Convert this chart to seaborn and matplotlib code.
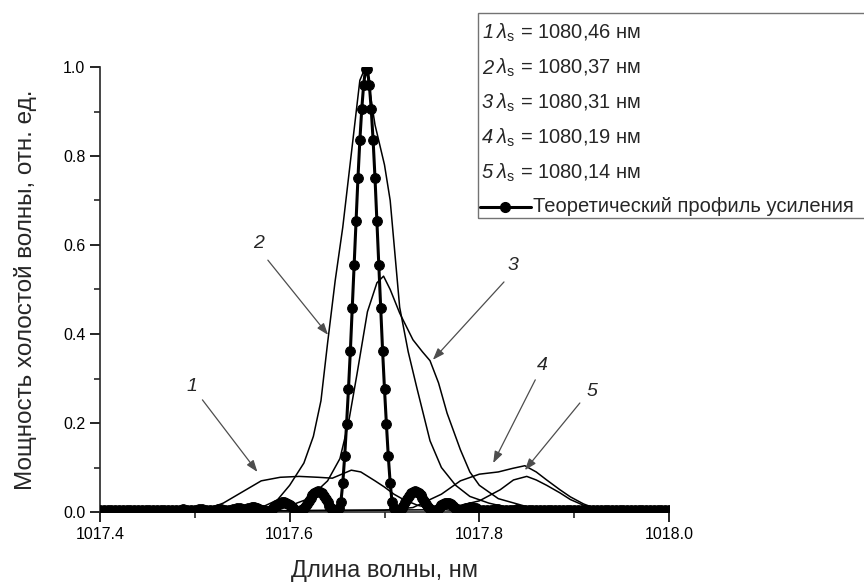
import numpy as np
import pandas as pd
import matplotlib
matplotlib.use("Agg")
import matplotlib.pyplot as plt
from matplotlib.lines import Line2D
from matplotlib.patches import Rectangle
from matplotlib.ticker import MultipleLocator, FormatStrFormatter
import seaborn as sns

# ---------------- data ----------------
# Theoretical gain profile (sampled on a wavelength grid, nm)
theory_x_left = np.round(np.arange(1017.400, 1017.5565, 0.004), 3)
theory_y_left = [
    0.004, 0.005, 0.005, 0.004, 0.004, 0.005, 0.005, 0.004, 0.004, 0.005,
    0.005, 0.004, 0.004, 0.005, 0.005, 0.004, 0.004, 0.005, 0.005, 0.004,
    0.004, 0.005, 0.006, 0.005, 0.004, 0.005, 0.006, 0.006, 0.005, 0.004,
    0.005, 0.007, 0.007, 0.005, 0.004, 0.006, 0.008, 0.008, 0.007, 0.009,
]
theory_x_mid = np.round(np.arange(1017.560, 1017.8005, 0.002), 3)
theory_y_mid = [
    0.011, 0.011, 0.010, 0.009, 0.007, 0.005, 0.004, 0.003, 0.003, 0.003,
    0.005, 0.008, 0.012, 0.015, 0.018, 0.020, 0.022, 0.022, 0.021, 0.019,
    0.016, 0.012, 0.008, 0.005, 0.003, 0.003, 0.004, 0.007, 0.012, 0.018,
    0.025, 0.032, 0.038, 0.043, 0.046, 0.047, 0.046, 0.043, 0.037, 0.030,
    0.022, 0.014, 0.008, 0.004, 0.003, 0.004, 0.008, 0.022, 0.065, 0.125,
    0.198, 0.276, 0.362, 0.458, 0.555, 0.655, 0.750, 0.835, 0.905, 0.960,
    0.995, 0.995, 0.960, 0.905, 0.835, 0.750, 0.655, 0.555, 0.458, 0.362,
    0.276, 0.198, 0.125, 0.065, 0.022, 0.008, 0.004, 0.003, 0.004, 0.008,
    0.014, 0.022, 0.030, 0.037, 0.043, 0.046, 0.047, 0.046, 0.043, 0.038,
    0.032, 0.025, 0.018, 0.012, 0.007, 0.004, 0.003, 0.004, 0.007, 0.011,
    0.015, 0.018, 0.020, 0.021, 0.020, 0.018, 0.014, 0.010, 0.006, 0.004,
    0.003, 0.004, 0.006, 0.008, 0.010, 0.011, 0.011, 0.010, 0.008, 0.006,
    0.005,
]
theory_x_right = np.round(np.arange(1017.804, 1018.0005, 0.004), 3)
theory_y_right = [
    0.004, 0.004, 0.005, 0.006, 0.006, 0.005, 0.004, 0.004, 0.005, 0.006,
    0.005, 0.004, 0.004, 0.005, 0.005, 0.004, 0.004, 0.005, 0.005, 0.004,
    0.004, 0.005, 0.005, 0.004, 0.004, 0.005, 0.005, 0.004, 0.004, 0.005,
    0.005, 0.004, 0.004, 0.005, 0.005, 0.004, 0.004, 0.005, 0.005, 0.004,
    0.004, 0.005, 0.005, 0.004, 0.004, 0.005, 0.005, 0.004, 0.004, 0.005,
]

# Measured idler spectra for five signal wavelengths
x1 = [1017.40, 1017.45, 1017.50, 1017.515, 1017.53, 1017.55, 1017.57, 1017.59,
      1017.61, 1017.63, 1017.645, 1017.655, 1017.665, 1017.675, 1017.69, 1017.70,
      1017.71, 1017.72, 1017.735, 1017.75, 1017.77, 1017.80, 1017.90, 1018.00]
y1 = [0.004, 0.004, 0.005, 0.008, 0.020, 0.045, 0.070, 0.078,
      0.080, 0.078, 0.076, 0.085, 0.094, 0.090, 0.070, 0.056,
      0.040, 0.028, 0.015, 0.008, 0.004, 0.003, 0.003, 0.003]

x2 = [1017.40, 1017.50, 1017.55, 1017.572, 1017.587, 1017.60, 1017.615, 1017.625,
      1017.633, 1017.640, 1017.648, 1017.656, 1017.662, 1017.668, 1017.674, 1017.678,
      1017.682, 1017.690, 1017.700, 1017.706, 1017.711, 1017.716, 1017.725, 1017.734,
      1017.748, 1017.760, 1017.775, 1017.79, 1017.81, 1017.83, 1017.86, 1017.90, 1018.00]
y2 = [0.003, 0.004, 0.005, 0.012, 0.027, 0.060, 0.110, 0.170,
      0.250, 0.380, 0.520, 0.640, 0.750, 0.860, 0.970, 0.990,
      0.980, 0.870, 0.780, 0.700, 0.580, 0.460, 0.360, 0.280,
      0.160, 0.100, 0.060, 0.035, 0.020, 0.010, 0.005, 0.004, 0.003]

x3 = [1017.40, 1017.55, 1017.59, 1017.62, 1017.64, 1017.653, 1017.662, 1017.671,
      1017.682, 1017.692, 1017.699, 1017.706, 1017.716, 1017.730, 1017.740, 1017.748,
      1017.757, 1017.766, 1017.78, 1017.79, 1017.80, 1017.82, 1017.85, 1017.88,
      1017.95, 1018.00]
y3 = [0.003, 0.004, 0.006, 0.030, 0.070, 0.120, 0.200, 0.310,
      0.450, 0.515, 0.530, 0.500, 0.447, 0.387, 0.360, 0.340,
      0.290, 0.222, 0.140, 0.090, 0.060, 0.030, 0.012, 0.005,
      0.003, 0.003]

x4 = [1017.40, 1017.60, 1017.70, 1017.73, 1017.76, 1017.78, 1017.80, 1017.82,
      1017.835, 1017.848, 1017.86, 1017.871, 1017.885, 1017.896, 1017.91, 1017.92,
      1017.94, 1018.00]
y4 = [0.003, 0.003, 0.004, 0.010, 0.040, 0.070, 0.085, 0.090,
      0.098, 0.104, 0.090, 0.072, 0.050, 0.034, 0.018, 0.010,
      0.004, 0.003]

x5 = [1017.40, 1017.60, 1017.75, 1017.78, 1017.80, 1017.822, 1017.836, 1017.85,
      1017.86, 1017.871, 1017.885, 1017.896, 1017.91, 1017.92, 1017.94, 1018.00]
y5 = [0.003, 0.003, 0.005, 0.015, 0.025, 0.050, 0.072, 0.080,
      0.072, 0.060, 0.043, 0.028, 0.015, 0.009, 0.004, 0.003]

legend_labels = ["1080,46", "1080,37", "1080,31", "1080,19", "1080,14"]
theory_label = "Теоретический профиль усиления"
x_title = "Длина волны, нм"
y_title = "Мощность холостой волны, отн. ед."

# ---------------- style ----------------
sns.set_style("ticks")
plt.rcParams["font.family"] = ["Liberation Sans", "DejaVu Sans"]
plt.rcParams["mathtext.fontset"] = "custom"
plt.rcParams["mathtext.rm"] = "Liberation Sans"
plt.rcParams["mathtext.it"] = "Liberation Sans:italic"
plt.rcParams["axes.linewidth"] = 1.2

fig = plt.figure(figsize=(8.64, 5.84), dpi=100)
ax = fig.add_axes([100 / 864, 72 / 584, 569 / 864, 445 / 584])

theory = pd.DataFrame({
    "x": np.concatenate([theory_x_left, theory_x_mid, theory_x_right]),
    "y": np.concatenate([theory_y_left, theory_y_mid, theory_y_right]),
})

for xs, ys in [(x1, y1), (x2, y2), (x3, y3), (x4, y4), (x5, y5)]:
    sns.lineplot(x=xs, y=ys, ax=ax, color="black", linewidth=1.1, zorder=3)

sns.lineplot(data=theory, x="x", y="y", ax=ax, color="black", linewidth=2.2,
             marker="o", markersize=7, markeredgecolor="black",
             markerfacecolor="black", zorder=5)

ax.set_xlim(1017.4, 1018.0)
ax.set_ylim(0.0, 1.0)
ax.xaxis.set_major_locator(MultipleLocator(0.2))
ax.xaxis.set_minor_locator(MultipleLocator(0.1))
ax.yaxis.set_major_locator(MultipleLocator(0.2))
ax.yaxis.set_minor_locator(MultipleLocator(0.1))
ax.xaxis.set_major_formatter(FormatStrFormatter("%.1f"))
ax.yaxis.set_major_formatter(FormatStrFormatter("%.1f"))
ax.tick_params(which="major", direction="out", length=7, width=1.2,
               labelsize=11.5, colors="black")
ax.tick_params(which="minor", direction="out", length=4.5, width=1.2)
sns.despine(ax=ax)
for sp in ax.spines.values():
    sp.set_clip_on(False)

ax.set_xlabel(x_title, fontsize=17, labelpad=13)
ax.set_ylabel(y_title, fontsize=17.5, labelpad=19)

# ---------------- curve labels with arrows ----------------
arrow_kw = dict(arrowstyle="-|>,head_length=0.5,head_width=0.18", color="0.3",
                lw=0.9, mutation_scale=14, shrinkA=0, shrinkB=0)
callouts = [
    ("1", (1017.497, 0.281), (1017.508, 0.252), (1017.566, 0.090)),
    ("2", (1017.567, 0.604), (1017.577, 0.566), (1017.6405, 0.398)),
    ("3", (1017.835, 0.555), (1017.826, 0.517), (1017.751, 0.342)),
    ("4", (1017.866, 0.330), (1017.859, 0.297), (1017.8146, 0.110)),
    ("5", (1017.919, 0.270), (1017.906, 0.245), (1017.848, 0.094)),
]
for txt, tpos, start, tip in callouts:
    ax.text(*tpos, txt, fontsize=14, fontstyle="italic", ha="center",
            va="center")
    ax.annotate("", xy=tip, xytext=start, arrowprops=arrow_kw, zorder=6)

# ---------------- legend box ----------------
fig.add_artist(Rectangle((478 / 864, 1 - 218 / 584), 0.5, 205 / 584,
                         transform=fig.transFigure, fill=False,
                         edgecolor="0.45", linewidth=1.0, clip_on=False))
row_y = [33, 68, 103, 138, 173]
for i, (lab, ry) in enumerate(zip(legend_labels, row_y)):
    fy = 1 - ry / 584
    fig.text(482 / 864, fy, str(i + 1), fontsize=14.5, fontstyle="italic",
             va="center", ha="left")
    fig.text(496 / 864, fy, rf"$\mathit{{\lambda}}_\mathrm{{s}}$ = {lab} нм",
             fontsize=14.5, va="center", ha="left")
hy = 1 - 207 / 584
fig.add_artist(Line2D([480 / 864, 531 / 864], [hy, hy], transform=fig.transFigure,
                      color="black", linewidth=2.2))
fig.add_artist(Line2D([505 / 864], [hy], transform=fig.transFigure, marker="o",
                      markersize=7, color="black"))
fig.text(533 / 864, hy, theory_label, fontsize=14.5, va="center", ha="left")

fig.savefig("out.png", dpi=100)
